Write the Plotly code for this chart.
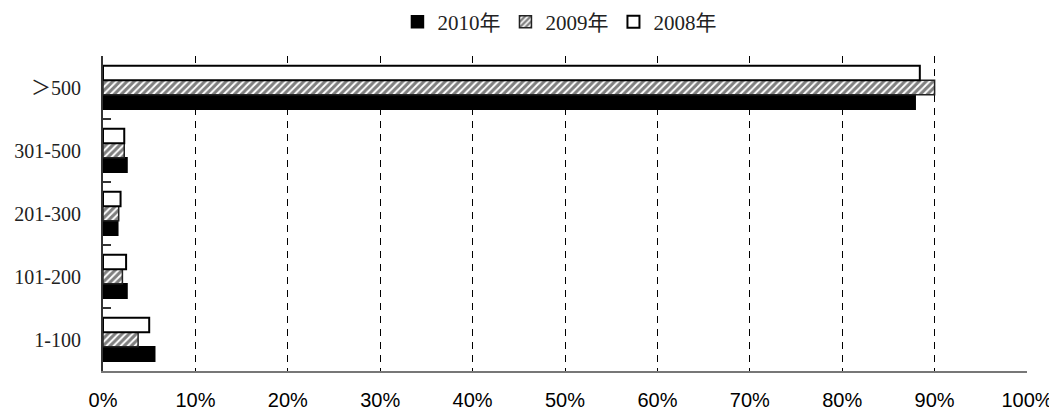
import plotly.graph_objects as go

categories = ["1-100", "101-200", "201-300", "301-500", "＞500"]
series_names = ["2010年", "2009年", "2008年"]
v2010 = [5.6, 2.6, 1.6, 2.6, 87.9]
v2009 = [3.8, 2.1, 1.7, 2.3, 90.0]
v2008 = [5.0, 2.5, 1.9, 2.3, 88.4]
x_ticks = [0, 10, 20, 30, 40, 50, 60, 70, 80, 90, 100]
x_tick_labels = [f"{t}%" for t in x_ticks]

SERIF = "Liberation Serif, 'Noto Sans CJK SC', serif"
SANS = "Liberation Sans, Arial, sans-serif"

fig = go.Figure()
fig.add_trace(go.Bar(
    y=categories, x=v2010, name=series_names[0], orientation="h",
    marker=dict(color="black", line=dict(color="black", width=1.5)),
))
fig.add_trace(go.Bar(
    y=categories, x=v2009, name=series_names[1], orientation="h",
    marker=dict(color="white", line=dict(color="#222222", width=1.5),
                pattern=dict(shape="/", fgcolor="black", bgcolor="white",
                             size=5, solidity=0.6)),
))
fig.add_trace(go.Bar(
    y=categories, x=v2008, name=series_names[2], orientation="h",
    marker=dict(color="white", line=dict(color="black", width=2)),
))

fig.update_layout(
    width=1049, height=401,
    margin=dict(l=95, r=30, t=48, b=38, autoexpand=False),
    paper_bgcolor="white", plot_bgcolor="white",
    barmode="group", bargap=0.31, bargroupgap=0,
    showlegend=True,
    legend=dict(orientation="h", x=0.494, xanchor="center", y=1.108, yanchor="middle",
                font=dict(family=SERIF, size=21, color="#222222"),
                itemwidth=30, traceorder="normal"),
    font=dict(family=SERIF, size=21, color="#222222"),
)
fig.update_xaxes(
    range=[0, 100], tickvals=x_ticks, ticktext=x_tick_labels,
    showgrid=True, gridcolor="black", gridwidth=1, griddash="7px,6px",
    showline=True, linecolor="#777777", linewidth=2,
    ticks="", zeroline=False, automargin=False,
    tickfont=dict(family=SANS, size=20, color="black"),
    ticklabelstandoff=10,
)
fig.update_yaxes(
    type="category", categoryorder="array", categoryarray=categories,
    showline=True, linecolor="#333333", linewidth=2,
    ticks="inside", tickson="boundaries", ticklen=8, tickcolor="#333333", tickwidth=1.5,
    showgrid=False, zeroline=False, automargin=False,
    tickfont=dict(family=SERIF, size=20, color="#222222"),
    ticklabelstandoff=16,
)

fig.write_html("out.html")
